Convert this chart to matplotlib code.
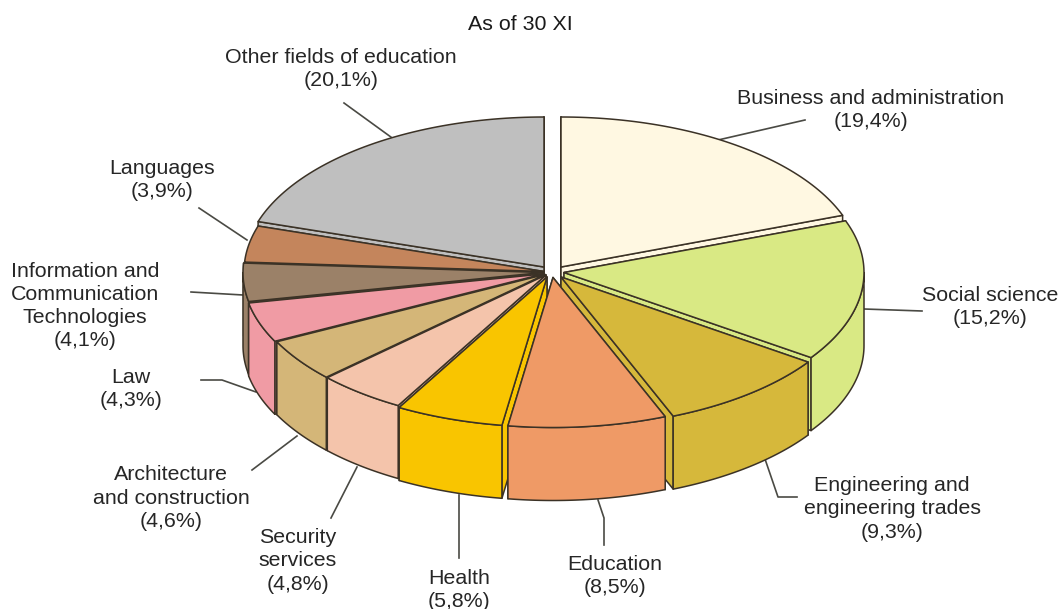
import numpy as np
import matplotlib.pyplot as plt

plt.rcParams['font.family'] = ['Liberation Sans', 'DejaVu Sans']

# Shares of students by field, clockwise from twelve o'clock
categorias = ['Business and administration', 'Social science',
              'Engineering and\nengineering trades', 'Education', 'Health',
              'Security\nservices', 'Architecture\nand construction', 'Law',
              'Information and\nCommunication\nTechnologies', 'Languages',
              'Other fields of education']
valores = [19.4, 15.2, 9.3, 8.5, 5.8, 4.8, 4.6, 4.3, 4.1, 3.9, 20.1]
colores = ['#FFF8E2', '#D9E984', '#D6B83B', '#EF9A66', '#F9C500', '#F4C4AB',
           '#D4B678', '#F09BA4', '#9B8168', '#C4855C', '#BFBFBF']

# Desplazamiento de cada porcion respecto al centro (px)
desplaza = [(8, -7), (11, -1.5), (8, 3), (0, 3.5), (-6, 3), (-7, 1), (-8, 0.5),
            (-10, 0), (-10, -1.5), (-9, -2.5), (-9, -7)]
# Posicion del texto de cada porcion
pos_texto = [(871, 110), (990, 307), (892, 509), (615, 576), (459, 590),
             (298, 561), (171, 498), (131, 389), (85, 306), (162, 180), (341, 69)]
# Lineas de guia
guias = [[(718, 140), (805, 120)],
         [(864, 309), (922, 311)],
         [(765, 459), (778, 497), (797, 497)],
         [(598, 500), (604, 518), (604, 545)],
         [(459, 495), (459, 558)],
         [(357, 467), (331, 518)],
         [(297, 436), (252, 470)],
         [(201, 380), (222, 380), (256, 392)],
         [(191, 292), (243, 295)],
         [(199, 208), (247, 240)],
         [(344, 103), (395, 140)]]

cx, cy = 553, 274
a, b = 300, 150
alto = 73
borde = '#3b3226'

fig = plt.figure(figsize=(10.61, 6.09), dpi=100)
ax = fig.add_axes([0, 0, 1, 1])
ax.set_xlim(0, 1061)
ax.set_ylim(609, 0)
ax.axis('off')

angulos = np.radians(np.cumsum([0] + valores) / sum(valores) * 360)


def punto(ang, d):
    return cx + d[0] + a * np.sin(ang), cy + d[1] - b * np.cos(ang)


def porcion(i, z):
    d = desplaza[i]
    t = np.linspace(angulos[i], angulos[i + 1], 60)
    x, y = punto(t, d)
    ox, oy = cx + d[0], cy + d[1]
    estilo = dict(fc=colores[i], ec=borde, lw=1.1, zorder=z, joinstyle='round')
    # caras radiales: la que queda visible se pinta al final
    caras = (-1, 0) if (angulos[i] + angulos[i + 1]) / 2 > np.pi else (0, -1)
    for k in caras:
        ax.fill([ox, x[k], x[k], ox], [oy, y[k], y[k] + alto, oy + alto], **estilo)
    # pared exterior, solo la parte que mira hacia adelante
    ini = max(angulos[i], np.pi / 2)
    fin = min(angulos[i + 1], 3 * np.pi / 2)
    if fin > ini:
        tf = np.linspace(ini, fin, 60)
        xf, yf = punto(tf, d)
        ax.fill(np.r_[xf, xf[::-1]], np.r_[yf, yf[::-1] + alto], **estilo)
    # cara superior
    ax.fill(np.r_[ox, x], np.r_[oy, y], **estilo)


# Se pinta de atras hacia adelante
orden = [10, 0, 9, 1, 8, 7, 2, 6, 5, 4, 3]
for z, i in enumerate(orden):
    porcion(i, 2 + z)

for g in guias:
    gx, gy = zip(*g)
    ax.plot(gx, gy, color='#4a4a44', lw=1.2, zorder=1)

for nombre, v, (tx, ty) in zip(categorias, valores, pos_texto):
    etiqueta = nombre + '\n(' + f'{v:.1f}'.replace('.', ',') + '%)'
    ax.text(tx, ty, etiqueta, ha='center', va='center', fontsize=15.4,
            color='#262626', linespacing=1.28, zorder=20)

ax.text(520, 24, 'As of 30 XI', ha='center', va='center', fontsize=15.4, color='#1a1a1a')

plt.savefig('out.png', dpi=100)
